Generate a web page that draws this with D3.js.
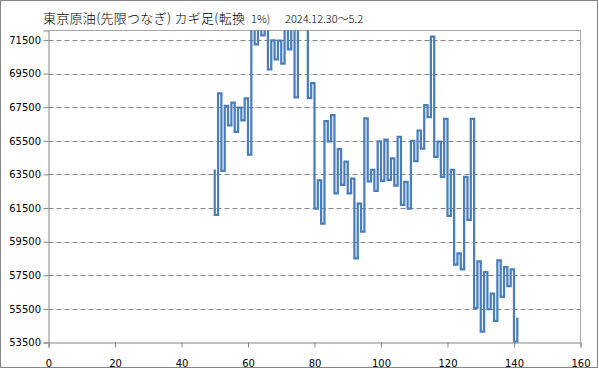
<!DOCTYPE html>
<html>
<head>
<meta charset="utf-8">
<script src="https://cdn.jsdelivr.net/npm/d3@7"></script>
<style>
  body { margin: 0; background: #fff; }
  svg { display: block; }
  .tick text { font-family: "DejaVu Sans", sans-serif; font-size: 10px; fill: #000; }
</style>
</head>
<body>
<svg id="chart" width="599" height="369"></svg>
<script>
// kagi turning points, first one sits at x = 50
const startX = 50
const kagiValues = [
    63800, 61100, 68320, 63710, 67580, 66420, 67780, 66030, 67470, 66720,
    68030, 64680, 72300, 71240, 72600, 71780, 72400, 69750, 71480, 70350,
    71460, 70090, 72200, 70940, 72500, 68080, 73200, 72300, 73000, 68040,
    68940, 61460, 63150, 60570, 66670, 65460, 67030, 62380, 65000, 62880,
    64260, 62370, 63250, 58510, 61770, 60090, 66830, 63080, 63770, 62520,
    65470, 63120, 65570, 63180, 64460, 62840, 65740, 61690, 63060, 61460,
    65490, 64290, 66100, 65030, 67630, 66910, 71700, 64550, 65450, 63360,
    66810, 61030, 63770, 58140, 58810, 57850, 63350, 60790, 66810, 55560,
    58320, 54140, 57690, 55480, 56410, 54790, 58380, 56210, 57990, 56860,
    57850, 53550, 54980
]
const yTicks = [53500, 55500, 57500, 59500, 61500, 63500, 65500, 67500, 69500, 71500]
const xTicks = [0, 20, 40, 60, 80, 100, 120, 140, 160]
const yMin = 53500
const yMax = 72064

const svg = d3.select('#chart')
const plotLeft = 48.5
const plotRight = 580.5
const plotTop = 30.5
const plotBottom = 342.5

const x = d3.scaleLinear().domain([0, 160]).range([plotLeft, plotRight])
const y = d3.scaleLinear().domain([yMin, yMax]).range([plotBottom, plotTop])

// outer frame
svg.append('rect')
    .attr('x', 0.5).attr('y', 0.5)
    .attr('width', 597).attr('height', 367)
    .attr('fill', '#fff')
    .attr('stroke', '#868686')

// grid
svg.append('g')
    .selectAll('line')
    .data(yTicks.filter(d => d > yMin))
    .enter()
    .append('line')
    .attr('x1', plotLeft).attr('x2', plotRight)
    .attr('y1', d => Math.round(y(d)) + 0.5)
    .attr('y2', d => Math.round(y(d)) + 0.5)
    .attr('stroke', '#868686')
    .attr('stroke-dasharray', '5,3')

// plot border top/right
svg.append('path')
    .attr('d', `M${plotLeft},${plotTop}H${plotRight}V${plotBottom}`)
    .attr('fill', 'none')
    .attr('stroke', '#a6a6a6')

svg.append('clipPath').attr('id', 'plot')
    .append('rect')
    .attr('x', plotLeft).attr('y', plotTop)
    .attr('width', plotRight - plotLeft).attr('height', plotBottom - plotTop + 1)

// step points: vertical at each x, then across at the new level
const pts = []
for (let i = 0; i < kagiValues.length - 1; i++) {
    pts.push([startX + i, kagiValues[i]])
    pts.push([startX + i, kagiValues[i + 1]])
}
const line = d3.line().x(d => x(d[0])).y(d => y(d[1]))

svg.append('path')
    .datum(pts)
    .attr('clip-path', 'url(#plot)')
    .attr('d', line)
    .attr('fill', 'none')
    .attr('stroke', '#4a7ebb')
    .attr('stroke-width', 2.25)
    .attr('stroke-linejoin', 'miter')

// axes
const yAxis = svg.append('g')
    .attr('transform', `translate(${plotLeft},0)`)
    .call(d3.axisLeft(y).tickValues(yTicks).tickSize(5).tickPadding(4).tickFormat(d3.format('d')))
const xAxis = svg.append('g')
    .attr('transform', `translate(0,${plotBottom})`)
    .call(d3.axisBottom(x).tickValues(xTicks).tickSize(5).tickPadding(12))
svg.selectAll('.domain').attr('stroke', '#868686')
svg.selectAll('.tick line').attr('stroke', '#868686')
yAxis.selectAll('.tick text').attr('x', -7.5)

// title
const title = svg.append('text')
    .attr('x', 43)
    .attr('y', 23)
    .attr('font-family', '"Noto Sans CJK JP", sans-serif')
    .attr('font-weight', 300)
    .attr('fill', '#000')
title.append('tspan').attr('font-size', 13)
    .attr('textLength', 202).attr('lengthAdjust', 'spacing')
    .text('東京原油(先限つなぎ) カギ足(転換')
title.append('tspan').attr('font-size', 11).attr('x', 251).text('1%)')
title.append('tspan').attr('font-size', 11).attr('x', 285).text('2024.12.30〜5.2')
</script>
</body>
</html>
